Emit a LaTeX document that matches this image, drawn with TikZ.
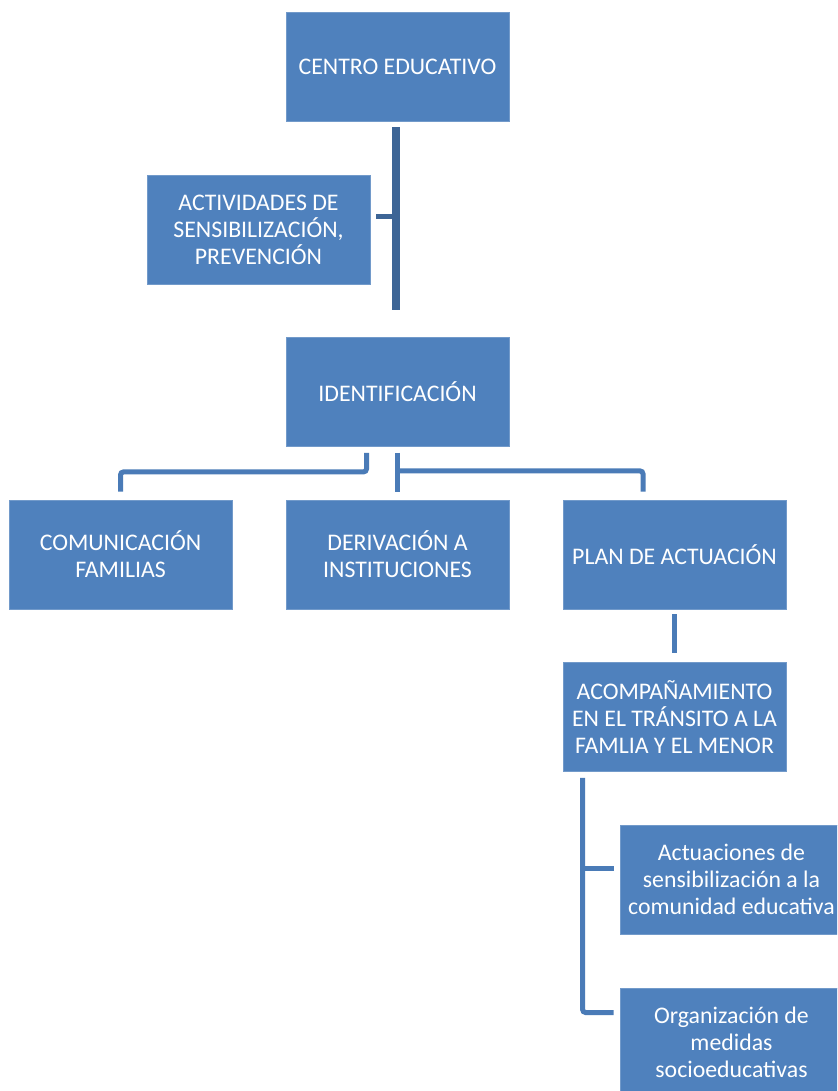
\documentclass[tikz,border=0pt]{standalone}
\usepackage{fontspec}
\setmainfont{Carlito}
\usetikzlibrary{calc}
\definecolor{boxblue}{HTML}{4F81BD}
\definecolor{lineblue}{HTML}{4A7BB7}
\definecolor{darkline}{HTML}{3D6596}
\begin{document}
\begin{tikzpicture}[x=1pt,y=-1pt,
  box/.style={rectangle, fill=boxblue, draw=boxblue!80!white, line width=0.8pt,
    minimum width=223pt, minimum height=109pt, text=white, align=center,
    font=\fontsize{23.8}{27}\selectfont, inner sep=0pt},
  conn/.style={draw=lineblue, line width=5pt, rounded corners=3pt},
  topconn/.style={draw=darkline, line width=8pt},
  branchconn/.style={draw=darkline, line width=5pt}]
\useasboundingbox (0,0) rectangle (837,1091);
\clip (0,0) rectangle (837,1091);
\fill[white] (0,0) rectangle (837,1091);
\node[box] (centro) at (397.5,66.5) {CENTRO EDUCATIVO};
\node[box] (activ) at (258.5,229.5) {ACTIVIDADES DE\\SENSIBILIZACIÓN,\\PREVENCIÓN};
\node[box] (ident) at (397.5,392) {IDENTIFICACIÓN};
\node[box] (comun) at (120.5,554.5) {COMUNICACIÓN\\FAMILIAS};
\node[box] (deriv) at (397.5,554.5) {DERIVACIÓN A\\INSTITUCIONES};
\node[box] (plan) at (674.5,554.5) {PLAN DE ACTUACIÓN};
\node[box] (acomp) at (674.5,717) {ACOMPAÑAMIENTO\\EN EL TRÁNSITO A LA\\FAMLIA Y EL MENOR};
\node[box] (actu) at (731.5,879.5) {Actuaciones de\\sensibilización a la\\comunidad educativa};
\node[box] (organ) at (731.5,1042.5) {Organización de\\medidas\\socioeducativas};
% top connector
\draw[topconn] ($(centro.south)+(-1.5,6)$) -- ($(ident.north)+(-1.5,-27)$);
\draw[branchconn] ($(activ.east)+(6,-12.5)$) -- ++(22,0);
% identification connectors
\draw[conn] ($(ident.south)+(-31,6)$) -- ++(0,19) -| ($(comun.north)+(0,-8)$);
\draw[conn] ($(ident.south)+(0,6)$) -- ($(deriv.north)+(0,-8)$);
\draw[conn] ($(ident.south)+(0,24)$) -| ($(plan.north)+(-31.5,-8)$);
% plan -> acompañamiento
\draw[conn] ($(plan.south)+(0,5)$) -- ($(acomp.north)+(0,-9)$);
% acompañamiento -> actuaciones / organización
\draw[conn] ($(acomp.south west)+(20,6)$) |- ($(organ.west)+(-6,-30)$);
\draw[conn] ($(actu.west)+(-37,-11.5)$) -- ($(actu.west)+(-6,-11.5)$);
\end{tikzpicture}
\end{document}
